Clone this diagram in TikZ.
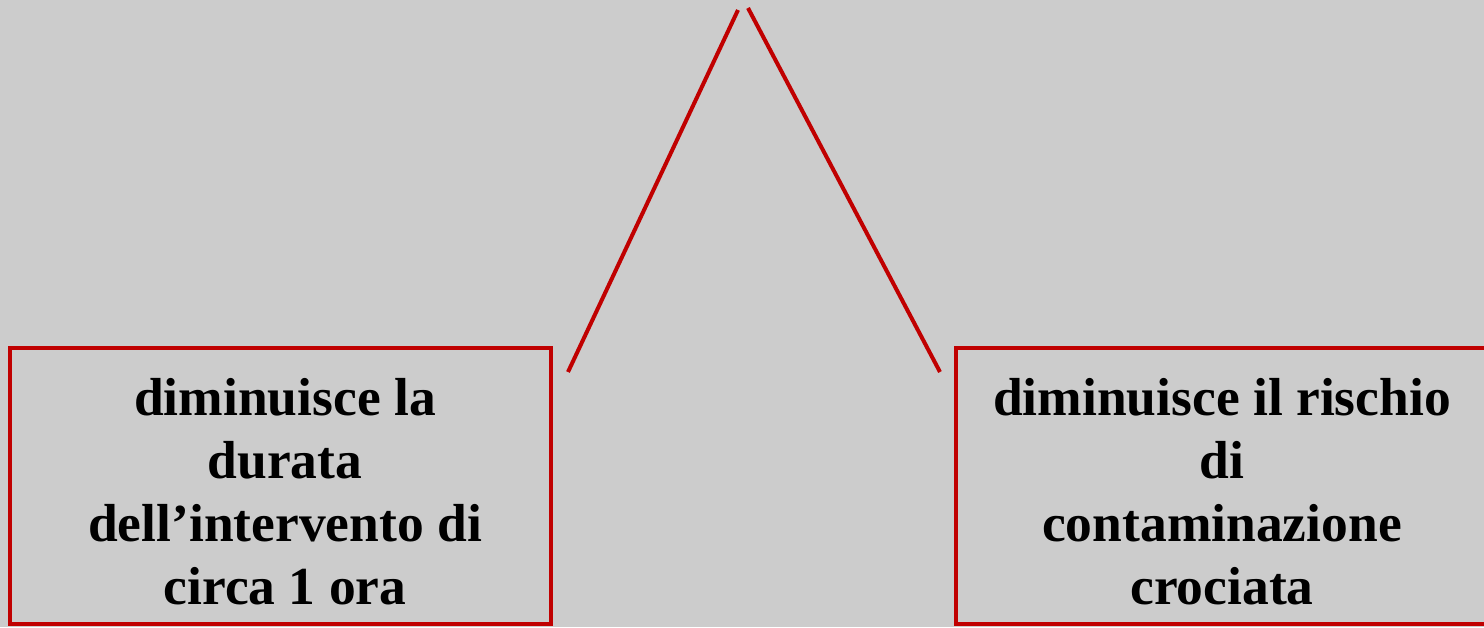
\documentclass[tikz,border=0pt]{standalone}
\usepackage{fontspec}
\setmainfont{Liberation Serif}
\definecolor{bg}{HTML}{CCCCCC}
\definecolor{dred}{HTML}{C00000}
\begin{document}
\begin{tikzpicture}[x=1pt,y=1pt,
  box/.style={draw=dred,line width=4pt,inner sep=0pt},
  lbl/.style={align=center,font=\fontsize{53.5}{63}\selectfont\bfseries,text=black},
  conn/.style={draw=dred,line width=4pt}]
\fill[bg] (0,0) rectangle (1484,627);
\useasboundingbox (0,0) rectangle (1484,627);
\begin{scope}
\clip (0,0) rectangle (1484,627);
\node[box,minimum width=541pt,minimum height=276pt] (lb) at (280.5,141) {};
\node[box,minimum width=534pt,minimum height=276pt] (rb) at (1223,141) {};
\node[lbl] (lt) at (285,135) {diminuisce la\\durata\\dell’intervento di\\circa 1 ora};
\node[lbl] (rt) at (1222,135) {diminuisce il rischio\\di\\contaminazione\\crociata};
\coordinate (t1) at (738,617);
\coordinate (l1) at (568,255);
\coordinate (t2) at (748,619);
\coordinate (r1) at (940,255);
\draw[conn] (t1) -- (l1);
\draw[conn] (t2) -- (r1);
\end{scope}
\end{tikzpicture}
\end{document}
